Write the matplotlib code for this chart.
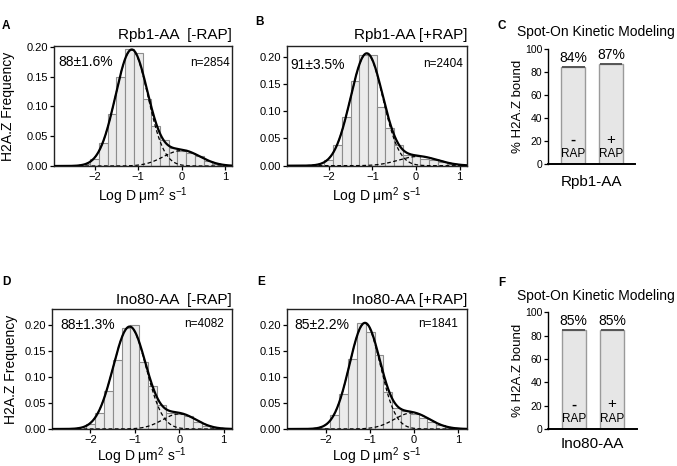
import numpy as np
import matplotlib
matplotlib.use("Agg")
import matplotlib.pyplot as plt

plt.rcParams['font.family'] = ['Liberation Sans', 'DejaVu Sans']
plt.rcParams['mathtext.fontset'] = 'custom'
plt.rcParams['mathtext.rm'] = 'Liberation Sans'
plt.rcParams['mathtext.it'] = 'Liberation Sans:italic'

# ---- data ----
# histogram bin centres (log D), bins are 0.2 wide
bin_centers = [-2.2, -2.0, -1.8, -1.6, -1.4, -1.2, -1.0, -0.8,
               -0.6, -0.4, -0.2, 0.0, 0.2, 0.4, 0.6, 0.8]
freq_rpb1_minus = [0.003, 0.012, 0.038, 0.087, 0.149, 0.196, 0.189, 0.113,
                   0.068, 0.044, 0.031, 0.026, 0.021, 0.016, 0.009, 0.003]
freq_rpb1_plus = [0.002, 0.010, 0.038, 0.090, 0.155, 0.203, 0.204, 0.108,
                  0.069, 0.038, 0.020, 0.017, 0.013, 0.010, 0.006, 0.003]
freq_ino80_minus = [0.0, 0.010, 0.030, 0.072, 0.133, 0.194, 0.200, 0.128,
                    0.082, 0.046, 0.030, 0.029, 0.024, 0.014, 0.006, 0.002]
freq_ino80_plus = [0.0, 0.002, 0.027, 0.067, 0.136, 0.204, 0.188, 0.143,
                   0.071, 0.041, 0.035, 0.028, 0.021, 0.014, 0.008, 0.002]

# two-population gaussian fits: (mean, sd, peak height) bound, free
fit_rpb1_minus = [(-1.15, 0.37, 0.195), (0.0, 0.42, 0.026)]
fit_rpb1_plus = [(-1.13, 0.37, 0.206), (0.05, 0.45, 0.017)]
fit_ino80_minus = [(-1.12, 0.37, 0.196), (0.0, 0.38, 0.029)]
fit_ino80_plus = [(-1.12, 0.35, 0.204), (-0.05, 0.40, 0.031)]

hist_titles = ['Rpb1-AA  [-RAP]', 'Rpb1-AA [+RAP]', 'Ino80-AA  [-RAP]', 'Ino80-AA [+RAP]']
bound_pct_text = ['88\u00b11.6%', '91\u00b13.5%', '88\u00b11.3%', '85\u00b12.2%']
n_text = ['n=2854', 'n=2404', 'n=4082', 'n=1841']

# Spot-On bound fractions (%)
rap_signs = ['-', '+']
bound_rpb1 = [84, 87]
bound_ino80 = [85, 85]

W, H = 677, 466
fig = plt.figure(figsize=(W / 100, H / 100), dpi=100)


def px_axes(l, t, r, b):
    return fig.add_axes([l / W, 1 - b / H, (r - l) / W, (b - t) / H])


def gauss(x, mu, sd, amp):
    return amp * np.exp(-(x - mu) ** 2 / (2 * sd ** 2))


def draw_hist(box, freq, fit, title, pct, n, xlim, ylim, title_gap,
              pct_off, n_off, ylabel_x, xlabel_y):
    ax = px_axes(*box)
    ax.bar(bin_centers, freq, width=0.2, color='#ebebeb', edgecolor='#8c8c8c',
           linewidth=0.8, zorder=1)
    x = np.linspace(xlim[0], xlim[1], 500)
    bound = gauss(x, *fit[0])
    free = gauss(x, *fit[1])
    ax.plot(x, bound, color='black', lw=0.9, ls=(0, (3, 2)), zorder=2)
    ax.plot(x, free, color='black', lw=0.9, ls=(0, (3, 2)), zorder=2)
    ax.plot(x, bound + free, color='black', lw=1.6, zorder=3)
    ax.set_xlim(*xlim)
    ax.set_ylim(*ylim)
    ax.set_xticks([-2, -1, 0, 1])
    ax.set_yticks([0, 0.05, 0.10, 0.15, 0.20])
    ax.set_yticklabels(['0.00', '0.05', '0.10', '0.15', '0.20'])
    ax.tick_params(labelsize=8, length=3, width=0.9, pad=1.5)
    for s in ax.spines.values():
        s.set_linewidth(1.0)
        s.set_color('#222222')
    ax.set_xlabel('Log D \u03bcm$^{2}$ s$^{-1}$', fontsize=10)
    ax.xaxis.set_label_coords(0.5, xlabel_y)
    if ylabel_x is not None:
        ax.set_ylabel('H2A.Z Frequency', fontsize=10)
        ax.yaxis.set_label_coords(ylabel_x, 0.5)
    ax.annotate(title, (1, 1), xycoords='axes fraction', xytext=(0, title_gap * 0.72),
                textcoords='offset points', ha='right', va='bottom', fontsize=11)
    ax.annotate(pct, (0, 1), xycoords='axes fraction',
                xytext=(pct_off[0] * 0.72, -pct_off[1] * 0.72),
                textcoords='offset points', ha='left', va='top', fontsize=10)
    ax.annotate(n, (1, 1), xycoords='axes fraction',
                xytext=(-n_off[0] * 0.72, -n_off[1] * 0.72),
                textcoords='offset points', ha='right', va='top', fontsize=8.5)
    return ax


def draw_bars(box, values, group, title_gap, xlabel_y):
    ax = px_axes(*box)
    pos = np.arange(len(values))
    ax.bar(pos, values, width=0.64, color='#e6e6e6', edgecolor='#9a9a9a', linewidth=1.0)
    ax.hlines(values, pos - 0.3, pos + 0.3, color='#555555', lw=1.4)
    for p, v, s in zip(pos, values, rap_signs):
        ax.annotate(f'{v}%', (p, v), xytext=(0, 1.5), textcoords='offset points',
                    ha='center', va='bottom', fontsize=10)
        ax.text(p, 21, s, ha='center', va='center', fontsize=11,
                fontweight='bold' if s == '-' else 'normal')
        ax.text(p, 3.5, 'RAP', ha='center', va='bottom', fontsize=8.5)
    ax.set_xlim(-0.68, 1.64)
    ax.set_ylim(0, 100)
    ax.set_xticks([])
    ax.set_yticks([0, 20, 40, 60, 80, 100])
    ax.tick_params(labelsize=7.5, length=3, width=0.9, pad=1)
    ax.spines['top'].set_visible(False)
    ax.spines['right'].set_visible(False)
    ax.spines['left'].set_linewidth(1.0)
    ax.spines['bottom'].set_linewidth(1.4)
    ax.set_ylabel('% H2A.Z bound', fontsize=9.5, labelpad=0.5)
    ax.set_xlabel(group, fontsize=11)
    ax.xaxis.set_label_coords(0.5, xlabel_y)
    ax.annotate('Spot-On Kinetic Modeling', (0, 1), xycoords='axes fraction',
                xytext=(-31 * 0.72, title_gap * 0.72), textcoords='offset points',
                ha='left', va='bottom', fontsize=10)
    return ax


draw_hist((54, 46, 232, 166), freq_rpb1_minus, fit_rpb1_minus, hist_titles[0],
          bound_pct_text[0], n_text[0], (-2.93, 1.15), (0, 0.2015), 4,
          (4, 9), (2, 11), -0.219, -0.165)
draw_hist((287.3, 46, 467, 165.7), freq_rpb1_plus, fit_rpb1_plus, hist_titles[1],
          bound_pct_text[1], n_text[1], (-2.95, 1.17), (0, 0.22), 4,
          (3, 12), (4, 12), None, -0.165)
draw_hist((52.3, 309, 231.7, 429), freq_ino80_minus, fit_ino80_minus, hist_titles[2],
          bound_pct_text[2], n_text[2], (-2.86, 1.18), (0, 0.23), 2,
          (8, 9), (8, 9), -0.191, -0.135)
draw_hist((287.3, 309.3, 467, 429), freq_ino80_plus, fit_ino80_plus, hist_titles[3],
          bound_pct_text[3], n_text[3], (-2.88, 1.2), (0, 0.231), 2,
          (7, 9), (9, 9), None, -0.135)

draw_bars((547.7, 49, 635, 164.3), bound_rpb1, 'Rpb1-AA', 10, -0.09)
draw_bars((547.7, 312.3, 636.7, 429), bound_ino80, 'Ino80-AA', 9, -0.07)

for letter, (x, y) in zip('ABCDEF', [(6, 26), (260, 22), (502, 26),
                                     (6.5, 282), (261.5, 282), (502, 283)]):
    fig.text(x / W, 1 - y / H, letter, fontsize=8.5, fontweight='bold',
             ha='center', va='center')

fig.savefig('out.png', dpi=100)
